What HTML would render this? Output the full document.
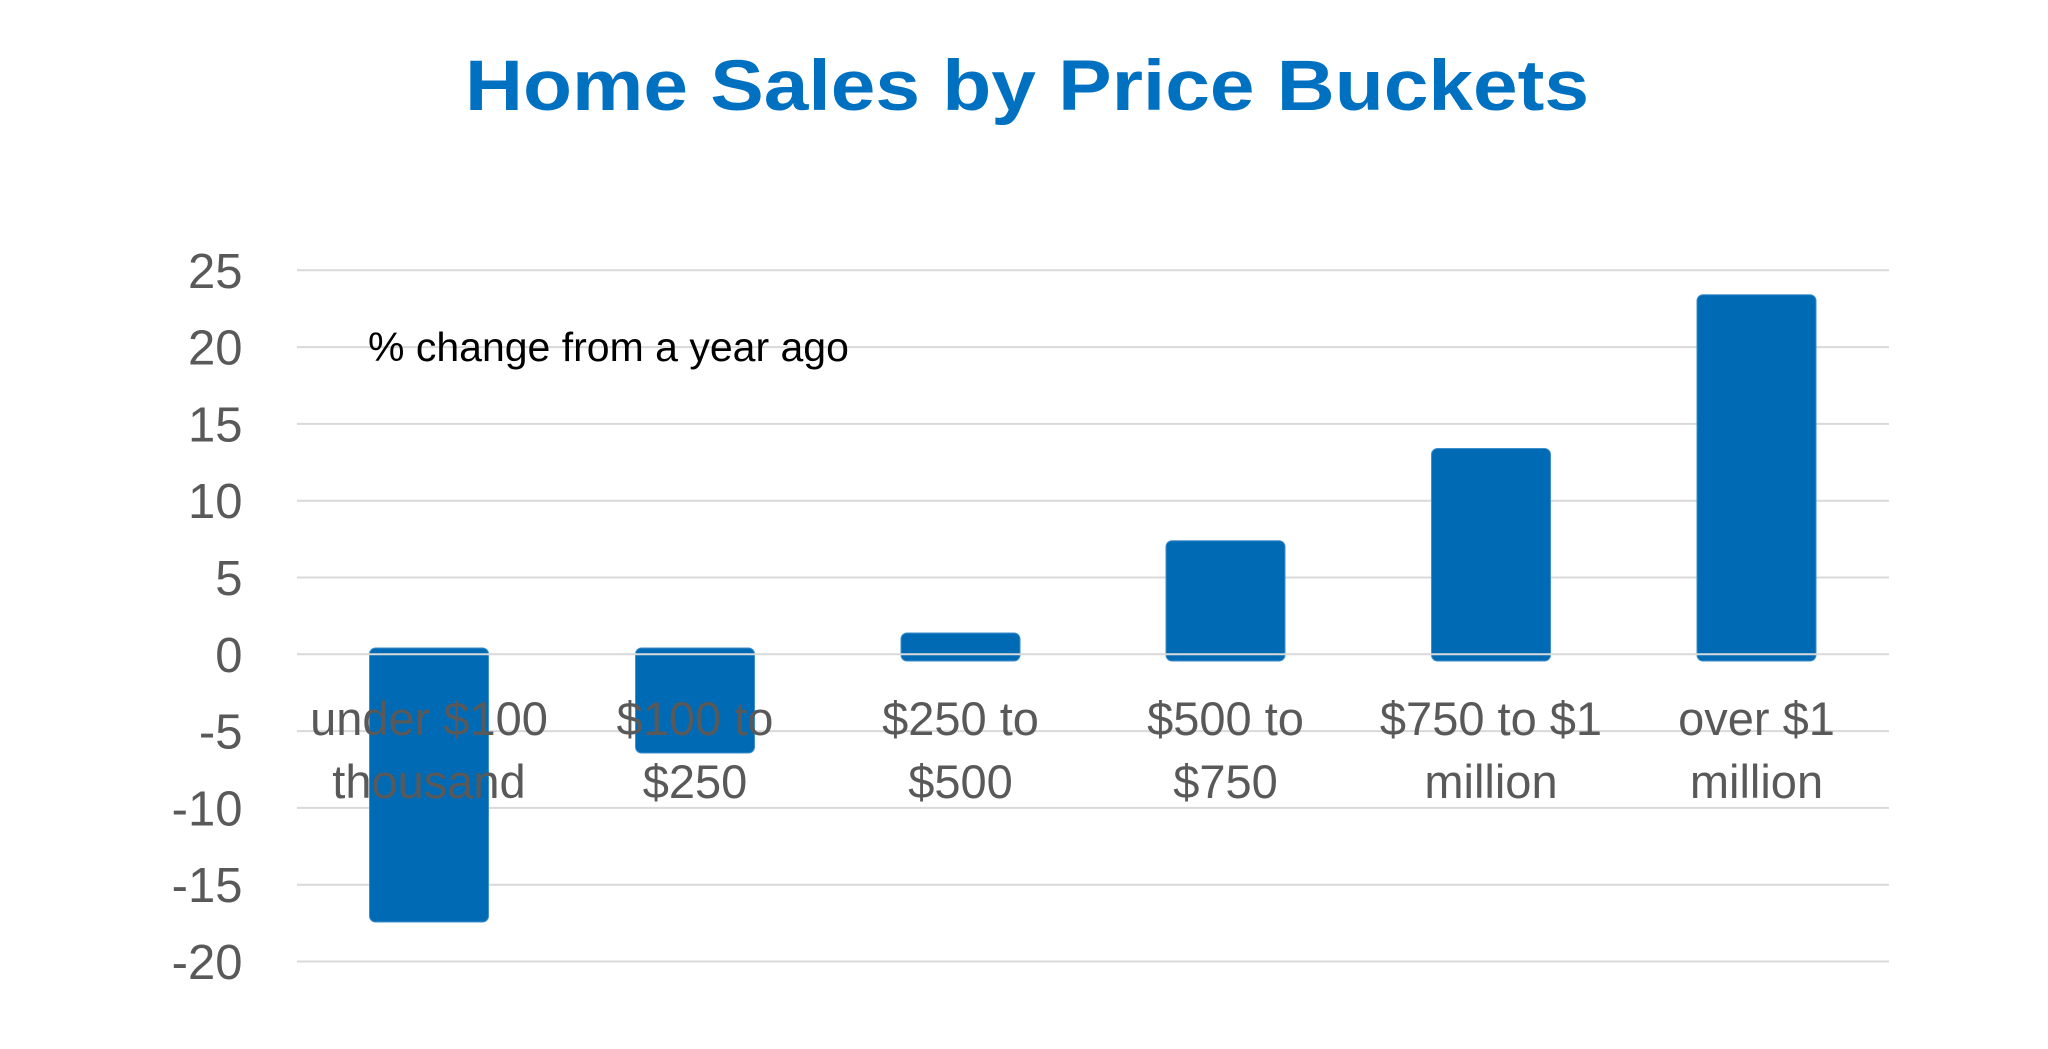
<!DOCTYPE html>
<html>
<head>
<meta charset="utf-8">
<style>
  html, body { margin: 0; padding: 0; background: #ffffff; }
  body { width: 2048px; height: 1049px; overflow: hidden; }
  svg { display: block; }
</style>
</head>
<body>
<svg width="2048" height="1049" viewBox="0 0 2048 1049" xmlns="http://www.w3.org/2000/svg">
  <rect x="0" y="0" width="2048" height="1049" fill="#ffffff"/>

  <!-- Title -->
  <text x="1027" y="110" text-anchor="middle" font-family="Liberation Sans, Arial, sans-serif" font-weight="bold" font-size="71" fill="#0070C0" textLength="1124" lengthAdjust="spacingAndGlyphs">Home Sales by Price Buckets</text>

  <!-- Gridlines -->
  <g stroke="#D9D9D9" stroke-width="2">
    <line x1="297" y1="270.3" x2="1889" y2="270.3"/>
    <line x1="297" y1="347.1" x2="1889" y2="347.1"/>
    <line x1="297" y1="423.9" x2="1889" y2="423.9"/>
    <line x1="297" y1="500.7" x2="1889" y2="500.7"/>
    <line x1="297" y1="577.5" x2="1889" y2="577.5"/>
    <line x1="297" y1="731.1" x2="1889" y2="731.1"/>
    <line x1="297" y1="807.9" x2="1889" y2="807.9"/>
    <line x1="297" y1="884.7" x2="1889" y2="884.7"/>
    <line x1="297" y1="961.5" x2="1889" y2="961.5"/>
  </g>

  <!-- Y tick labels -->
  <g font-family="Liberation Sans, Arial, sans-serif" font-size="49" fill="#595959" text-anchor="end">
    <text x="242.5" y="287.8">25</text>
    <text x="242.5" y="364.6">20</text>
    <text x="242.5" y="441.4">15</text>
    <text x="242.5" y="518.2">10</text>
    <text x="242.5" y="595">5</text>
    <text x="242.5" y="671.8">0</text>
    <text x="242.5" y="748.6">-5</text>
    <text x="242.5" y="825.4">-10</text>
    <text x="242.5" y="902.2">-15</text>
    <text x="242.5" y="979">-20</text>
  </g>

  <!-- Bars -->
  <g fill="#016AB4" stroke="#3D8FCB" stroke-width="1">
    <rect x="369.5" y="648" width="119" height="274" rx="6" ry="6"/>
    <rect x="635.5" y="648" width="119" height="105" rx="6" ry="6"/>
    <rect x="901" y="633" width="119" height="28" rx="6" ry="6"/>
    <rect x="1166" y="540.7" width="119" height="120.3" rx="6" ry="6"/>
    <rect x="1431.5" y="448.5" width="119" height="212.5" rx="6" ry="6"/>
    <rect x="1697" y="294.7" width="119" height="366.3" rx="6" ry="6"/>
  </g>

  <!-- Zero axis line on top -->
  <line x1="297" y1="654.3" x2="1889" y2="654.3" stroke="#D9D9D9" stroke-width="2"/>

  <!-- Category labels -->
  <g font-family="Liberation Sans, Arial, sans-serif" font-size="47" fill="#595959" text-anchor="middle">
    <text x="429" y="735">under $100</text>
    <text x="429" y="798">thousand</text>
    <text x="695" y="735">$100 to</text>
    <text x="695" y="798">$250</text>
    <text x="960.5" y="735">$250 to</text>
    <text x="960.5" y="798">$500</text>
    <text x="1225.5" y="735">$500 to</text>
    <text x="1225.5" y="798">$750</text>
    <text x="1491" y="735">$750 to $1</text>
    <text x="1491" y="798">million</text>
    <text x="1756.5" y="735">over $1</text>
    <text x="1756.5" y="798">million</text>
  </g>

  <!-- Annotation -->
  <text x="368" y="361" font-family="Liberation Sans, Arial, sans-serif" font-size="41" fill="#000000">% change from a year ago</text>
</svg>
</body>
</html>
